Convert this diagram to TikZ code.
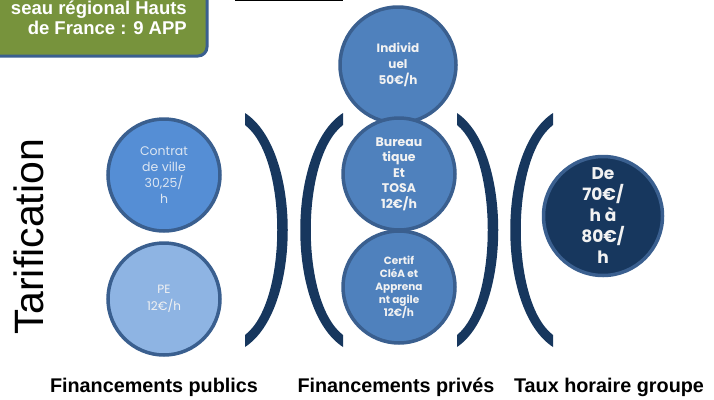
\documentclass[tikz,border=0pt]{standalone}
\usepackage{fontspec}
\setmainfont{Liberation Sans}
\newfontfamily\roundfont{Poppins}
\definecolor{boxgreen}{HTML}{77933C}
\definecolor{rimblue}{HTML}{3A5F8F}
\definecolor{midblue}{HTML}{4F81BD}
\definecolor{brightblue}{HTML}{558ED5}
\definecolor{paleblue}{HTML}{8EB4E3}
\definecolor{navy}{HTML}{17375E}
\definecolor{paletext}{HTML}{DCE6F2}
\begin{document}
\begin{tikzpicture}[x=1pt,y=-1pt]
        % Styles
        \tikzstyle{disc}=[circle,draw=rimblue,line width=3.5pt,minimum size=112pt,inner sep=0pt,align=center,text=white!95!black]
        \tikzstyle{boxtext}=[anchor=base east,text=white,inner sep=0pt,font=\fontsize{18.5}{20}\selectfont\bfseries]
        \tikzstyle{legend}=[font=\fontsize{19.8}{20}\selectfont\bfseries]
        \clip (0,0) rectangle (714,399);
        %network box
        \draw[fill=boxgreen,draw=rimblue,line width=3pt,rounded corners=9pt] (-12,-12) rectangle (207,56);
        \node[boxtext] (reseau) at (187,14) {seau régional Hauts};
        \node[boxtext] (apps) at (187,34) {de France : 9 APP};
        \draw[line width=1.2pt] (235,0.6) -- (343,0.6);
        %brackets
        \foreach \xe/\o/\i in {245/57/43, 343/-57/-43, 457/55/41, 553/-57/-43}
            \fill[navy] (\xe,113) .. controls ({\xe+(\o)},150) and ({\xe+(\o)},310) .. (\xe,347)
                -- (\xe,335) .. controls ({\xe+(\i)},302) and ({\xe+(\i)},158) .. (\xe,125) -- cycle;
        %public
        \node[disc,fill=brightblue,text=paletext,font=\roundfont\fontsize{12.5}{16}\selectfont] (ville) at (164,175) {Contrat\\de ville\\30,25/\\h};
        \node[disc,fill=paleblue,font=\roundfont\fontsize{12}{17}\selectfont] (pe) at (164,299) {PE\\12€/h};
        %private
        \node[disc,fill=midblue,minimum size=116pt,font=\roundfont\bfseries\fontsize{12}{16}\selectfont] (indiv) at (398,65) {Individ\\uel\\50€/h};
        \node[disc,fill=midblue,font=\roundfont\bfseries\fontsize{12.5}{15.5}\selectfont] (bureau) at (399,174) {Bureau\\tique\\Et\\TOSA\\12€/h};
        \node[disc,fill=midblue,font=\roundfont\bfseries\fontsize{10.5}{13}\selectfont] (certif) at (399,287) {Certif\\CléA et\\Apprena\\nt agile\\12€/h};
        %group
        \node[disc,fill=navy,minimum size=119pt,font=\roundfont\bfseries\fontsize{17}{21}\selectfont] (groupe) at (603,216) {De\\70€/\\h à\\80€/\\h};
        %labels
        \node[rotate=90,font=\fontsize{41}{41}\selectfont] (tarif) at (29,237) {Tarification};
        \node[legend] (publics) at (154,387) {Financements publics};
        \node[legend] (prives) at (396,387) {Financements privés};
        \node[legend] (taux) at (609,387) {Taux horaire groupe};
\end{tikzpicture}
\end{document}
